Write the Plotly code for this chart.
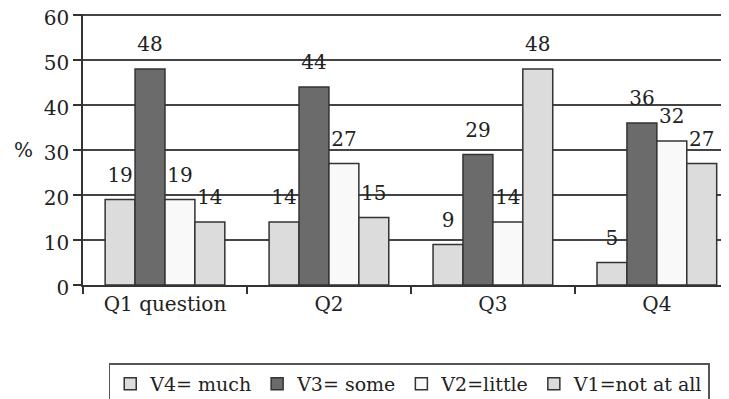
import plotly.graph_objects as go

categories = ["Q1 question", "Q2", "Q3", "Q4"]
series_names = ["V4= much", "V3= some", "V2=little", "V1=not at all"]
v4_much = [19, 14, 9, 5]
v3_some = [48, 44, 29, 36]
v2_little = [19, 27, 14, 32]
v1_not_at_all = [14, 15, 48, 27]
y_ticks = [0, 10, 20, 30, 40, 50, 60]

series_values = [v4_much, v3_some, v2_little, v1_not_at_all]
colors = ["#dcdcdc", "#6b6b6b", "#f9f9f9", "#dcdcdc"]

FONT = "DejaVu Serif"
TXT = "#222222"

fig = go.Figure()
for name, vals, col in zip(series_names, series_values, colors):
    fig.add_trace(go.Bar(
        name=name, x=categories, y=vals,
        marker=dict(color=col, line=dict(color="#333333", width=1.5)),
        text=[str(v) for v in vals],
        texttemplate="<span style='font-size:20px'>%{text}</span><br> ",
        textposition="outside",
        constraintext="none",
        cliponaxis=False,
        textfont=dict(family=FONT, size=10, color=TXT),
    ))

# page body has an 8px default margin, so the figure is sized/offset to fill the window
fig.update_layout(
    width=721, height=391,
    margin=dict(l=75, r=0, t=6, b=114, autoexpand=False),
    paper_bgcolor="white", plot_bgcolor="white",
    barmode="group", bargap=0.27, bargroupgap=0,
    font=dict(family=FONT, size=20, color=TXT),
    showlegend=True,
    legend=dict(
        orientation="h", x=0.505, xanchor="center", y=-0.289, yanchor="top",
        bordercolor="#555555", borderwidth=1.5, bgcolor="white",
        font=dict(family=FONT, size=19, color=TXT),
        itemwidth=30, tracegroupgap=0,
    ),
    xaxis=dict(
        range=[-0.5, 3.44], showgrid=False, automargin=False,
        showline=True, linecolor="#333333", linewidth=1.5,
        ticks="outside", tickson="boundaries", ticklen=7, tickcolor="#333333", tickwidth=1.5,
        tickfont=dict(family=FONT, size=20, color=TXT),
        ticklabeloverflow="allow",
    ),
    yaxis=dict(
        range=[0, 60.25], tickvals=y_ticks, showgrid=True, gridcolor="#444444", gridwidth=1.5,
        showline=True, linecolor="#333333", linewidth=1.5, automargin=False,
        ticks="outside", ticklen=8, tickcolor="#333333", tickwidth=1.5,
        tickfont=dict(family=FONT, size=20, color=TXT),
        ticklabeloverflow="allow", ticklabelshift=3,
        zeroline=False,
    ),
    annotations=[dict(text="%", xref="paper", yref="y", x=-0.075, y=30,
                      xanchor="right", yanchor="middle", showarrow=False,
                      font=dict(family=FONT, size=20, color=TXT))],
)

fig.write_html("out.html")
